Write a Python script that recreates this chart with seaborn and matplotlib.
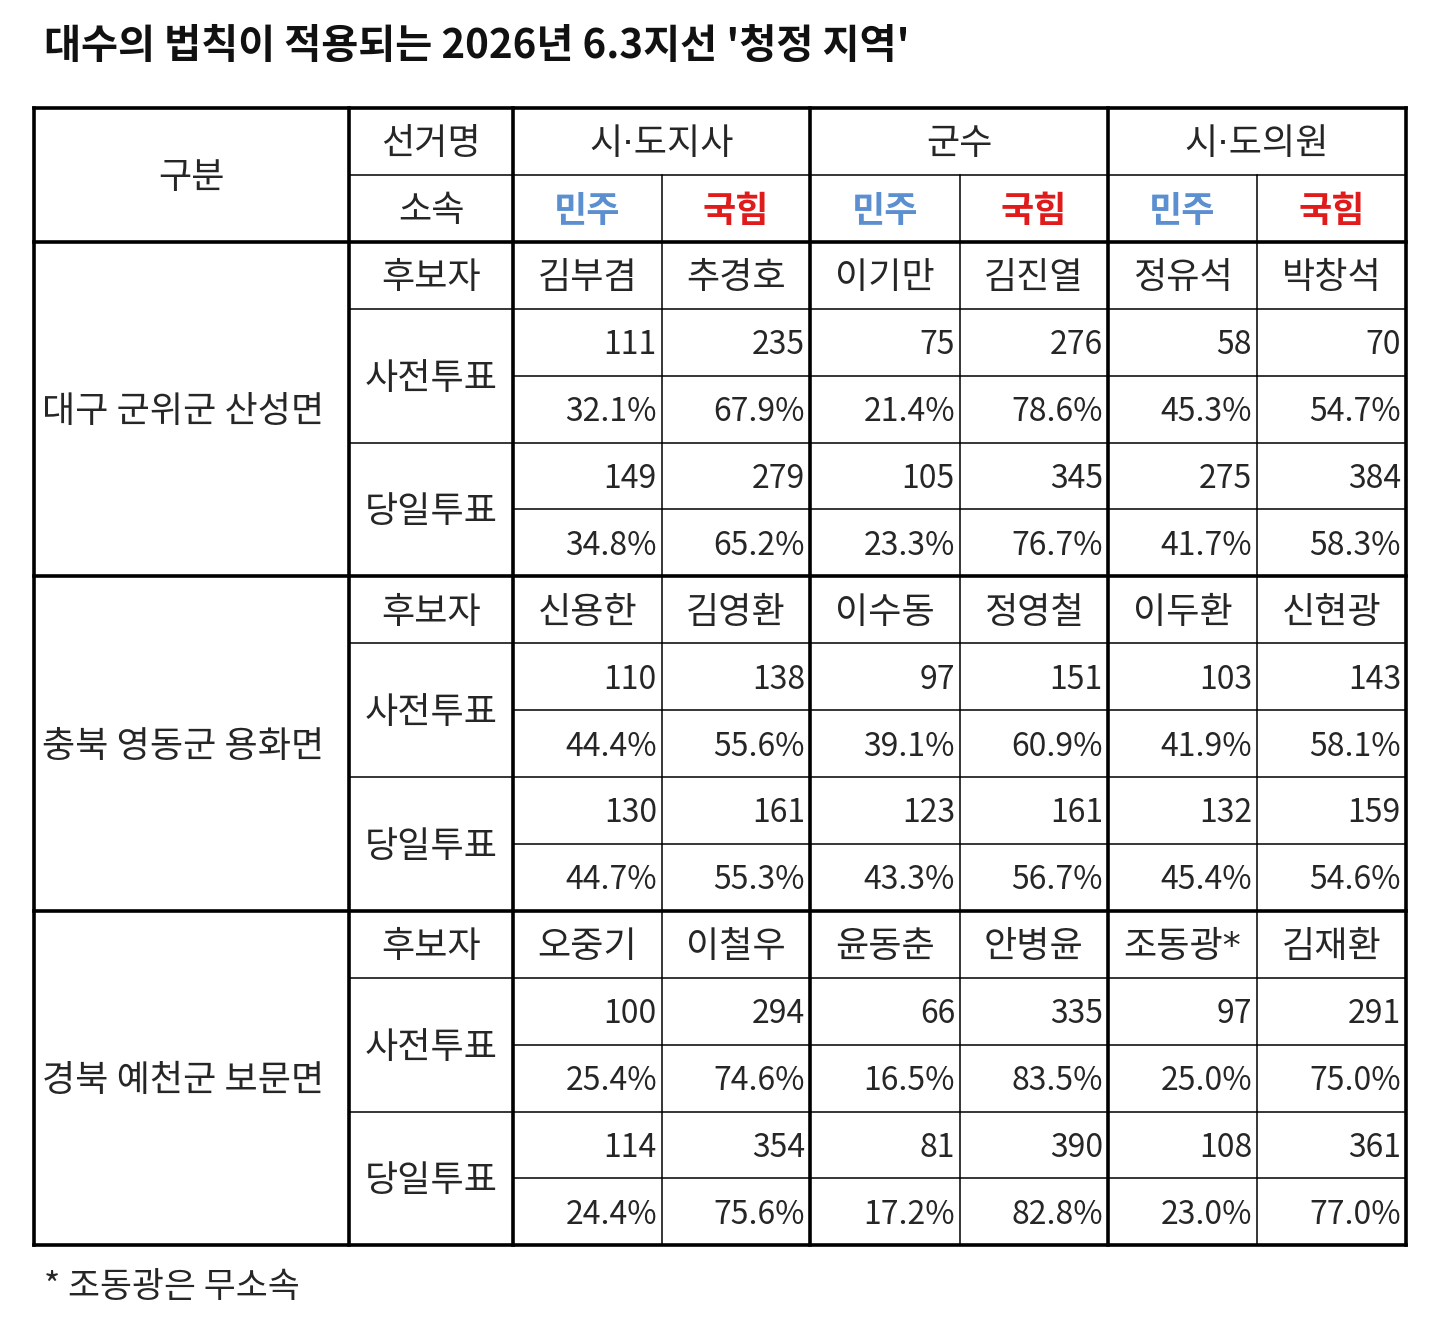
import matplotlib
matplotlib.use("Agg")
import matplotlib.pyplot as plt
import seaborn as sns

sns.set_theme(style="white")
plt.rcParams['font.family'] = ['Noto Sans CJK KR', 'DejaVu Sans']

title = "대수의 법칙이 적용되는 2026년 6.3지선 '청정 지역'"
note = "* 조동광은 무소속"

regions = ['대구 군위군 산성면', '충북 영동군 용화면', '경북 예천군 보문면']
elections = ['시·도지사', '군수', '시·도의원']
parties = ['민주', '국힘']
party_colors = {'민주': '#5b8fd0', '국힘': '#e01b1b'}
vote_types = ['사전투표', '당일투표']

candidates = [
    ['김부겸', '추경호', '이기만', '김진열', '정유석', '박창석'],
    ['신용한', '김영환', '이수동', '정영철', '이두환', '신현광'],
    ['오중기', '이철우', '윤동춘', '안병윤', '조동광*', '김재환'],
]
early_votes = [
    [111, 235, 75, 276, 58, 70],
    [110, 138, 97, 151, 103, 143],
    [100, 294, 66, 335, 97, 291],
]
early_pct = [
    [32.1, 67.9, 21.4, 78.6, 45.3, 54.7],
    [44.4, 55.6, 39.1, 60.9, 41.9, 58.1],
    [25.4, 74.6, 16.5, 83.5, 25.0, 75.0],
]
day_votes = [
    [149, 279, 105, 345, 275, 384],
    [130, 161, 123, 161, 132, 159],
    [114, 354, 81, 390, 108, 361],
]
day_pct = [
    [34.8, 65.2, 23.3, 76.7, 41.7, 58.3],
    [44.7, 55.3, 43.3, 56.7, 45.4, 54.6],
    [24.4, 75.6, 17.2, 82.8, 23.0, 77.0],
]

# grid geometry (pixels)
col_x = [34, 349, 513, 662, 810, 960, 1108, 1257, 1406]
top, row_h = 108, 66.9
n_rows = 17
row_y = [top + i * row_h for i in range(n_rows + 1)]

fig = plt.figure(figsize=(14.39, 13.29), dpi=100)
ax = fig.add_axes([0, 0, 1, 1])
ax.set_xlim(0, 1439)
ax.set_ylim(1329, 0)
ax.axis('off')

FS_NUM = 23
FS_KO = 26
TXT = '#262626'
DY = 3  # text sits a little below the cell centre
thick, thin = 2.6, 1.1
dot_family = ['DejaVu Sans', 'Noto Sans CJK KR']

def hline(y, x0, x1, lw):
    ax.plot([x0, x1], [y, y], color='black', lw=lw, solid_capstyle='projecting')

def vline(x, y0, y1, lw):
    ax.plot([x, x], [y0, y1], color='black', lw=lw, solid_capstyle='projecting')

def ctext(x, y, s, **kw):
    kw.setdefault('color', TXT)
    ax.text(x, y + DY, s, ha='center', va='center', fontsize=FS_KO, **kw)

def rtext(col, y, s):
    ax.text(col_x[col + 1] - 5, y + DY, s, ha='right', va='center', fontsize=FS_NUM, color=TXT)

def cell_mid(r):
    return (row_y[r] + row_y[r + 1]) / 2

# header
ctext((col_x[0] + col_x[1]) / 2, row_y[1], '구분')
ctext((col_x[1] + col_x[2]) / 2, cell_mid(0), '선거명')
ctext((col_x[1] + col_x[2]) / 2, cell_mid(1), '소속')
for i, e in enumerate(elections):
    ctext((col_x[2 + 2 * i] + col_x[4 + 2 * i]) / 2, cell_mid(0), e, family=dot_family)
    for j, p in enumerate(parties):
        c = 2 + 2 * i + j
        ctext((col_x[c] + col_x[c + 1]) / 2, cell_mid(1), p,
              color=party_colors[p], fontweight='bold')

# body
for k, reg in enumerate(regions):
    r0 = 2 + 5 * k
    ax.text(col_x[0] + 8, (row_y[r0] + row_y[r0 + 5]) / 2 + DY, reg, ha='left', va='center',
            fontsize=FS_KO, color=TXT)
    ctext((col_x[1] + col_x[2]) / 2, cell_mid(r0), '후보자')
    for v, vt in enumerate(vote_types):
        ctext((col_x[1] + col_x[2]) / 2, row_y[r0 + 2 + 2 * v], vt)
    for c in range(6):
        ctext((col_x[c + 2] + col_x[c + 3]) / 2, cell_mid(r0), candidates[k][c],
              family=dot_family if '*' in candidates[k][c] else None)
        rtext(c + 2, cell_mid(r0 + 1), str(early_votes[k][c]))
        rtext(c + 2, cell_mid(r0 + 2), f"{early_pct[k][c]:.1f}%")
        rtext(c + 2, cell_mid(r0 + 3), str(day_votes[k][c]))
        rtext(c + 2, cell_mid(r0 + 4), f"{day_pct[k][c]:.1f}%")

# horizontal lines
for r in range(n_rows + 1):
    if r in (0, 2, 7, 12, 17):
        hline(row_y[r], col_x[0], col_x[-1], thick)
    elif r == 1:
        hline(row_y[r], col_x[1], col_x[-1], thin)
    else:
        k = (r - 2) % 5
        x0 = col_x[2] if k in (2, 4) else col_x[1]
        hline(row_y[r], x0, col_x[-1], thin)

# vertical lines
for i, x in enumerate(col_x):
    if i in (0, 1, 2, 4, 6, 8):
        vline(x, row_y[0], row_y[-1], thick)
    else:
        vline(x, row_y[1], row_y[-1], thin)

ax.text(44, 46, title, ha='left', va='center', fontsize=29, fontweight='bold', color='#111111')
ax.text(44, 1287, note, ha='left', va='center', fontsize=25, color=TXT)

fig.savefig('out.png', dpi=100, facecolor='white')
